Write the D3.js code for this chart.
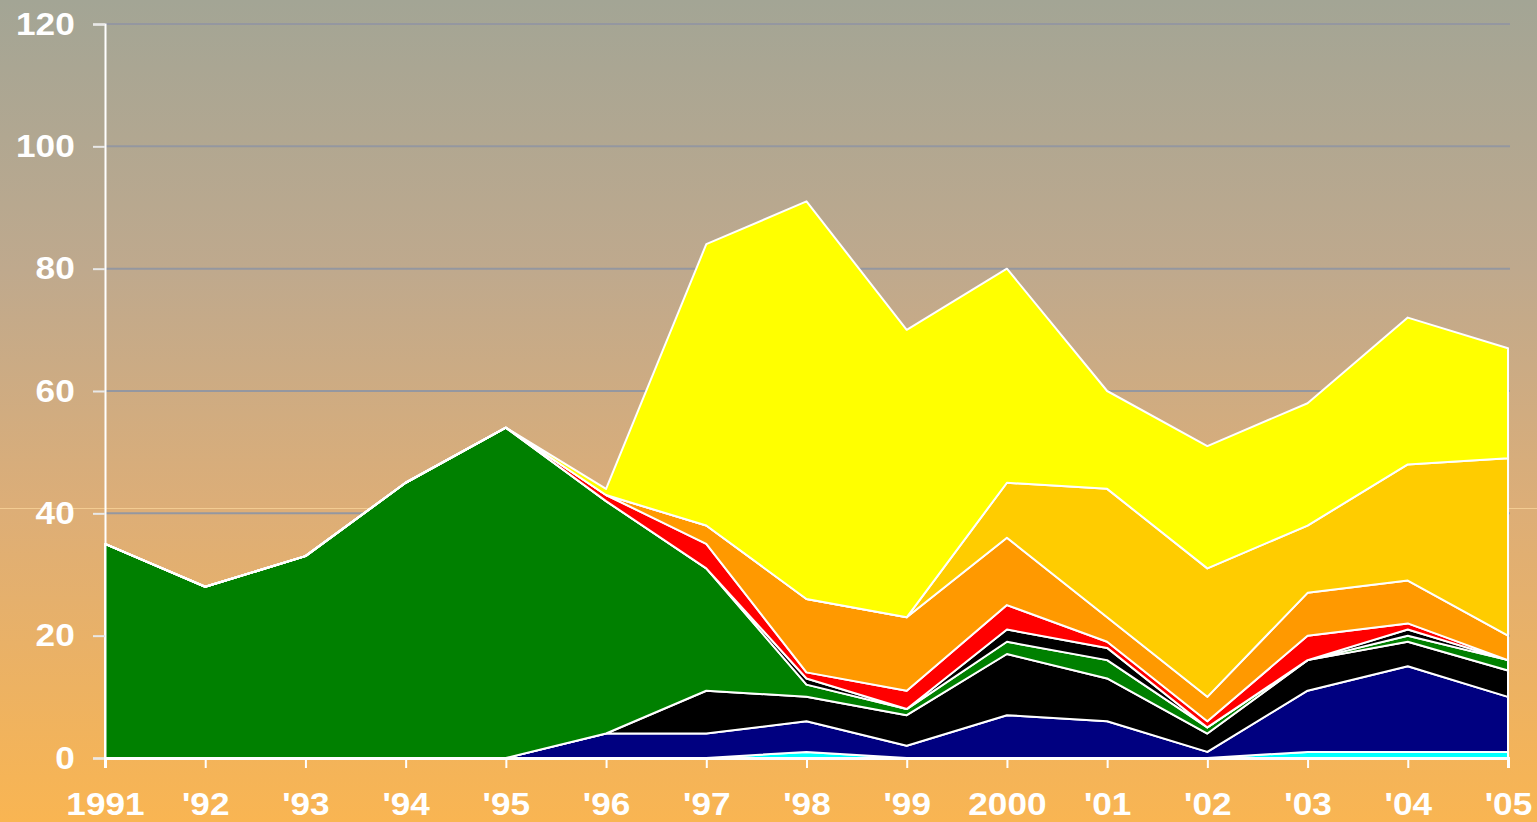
<!DOCTYPE html>
<html>
<head>
<meta charset="utf-8">
<script src="https://cdn.jsdelivr.net/npm/d3@7"></script>
<style>
  body { margin: 0; overflow: hidden; }
  svg { display: block; }
</style>
</head>
<body>
<div id="chart"></div>
<script>
// years along the bottom
var years = ["1991", "'92", "'93", "'94", "'95", "'96", "'97", "'98", "'99", "2000", "'01", "'02", "'03", "'04", "'05"];
var yTicks = [0, 20, 40, 60, 80, 100, 120];

// series, bottom to top of the stack
var cyan   = [0, 0, 0, 0, 0, 0, 0, 1, 0, 0, 0, 0, 1, 1, 1];
var navy   = [0, 0, 0, 0, 0, 4, 4, 5, 2, 7, 6, 1, 10, 14, 9];
var black1 = [0, 0, 0, 0, 0, 0, 7, 4, 5, 10, 7, 3, 5, 4, 4.3];
var green  = [35, 28, 33, 45, 54, 38, 20, 2, 1, 2, 3, 1, 0, 1, 1.7];
var black2 = [0, 0, 0, 0, 0, 0, 0, 1, 0, 2, 2, 0, 0, 1, 0];
var red    = [0, 0, 0, 0, 0, 1, 4, 1, 3, 4, 1, 1, 4, 1, 0];
var orange = [0, 0, 0, 0, 0, 0, 3, 12, 12, 11, 4, 4, 7, 7, 4];
var gold   = [0, 0, 0, 0, 0, 0, 0, 0, 0, 9, 21, 21, 11, 19, 29];
var yellow = [0, 0, 0, 0, 0, 1, 46, 65, 47, 35, 16, 20, 20, 24, 18];

var keys = ["cyan", "navy", "black1", "green", "black2", "red", "orange", "gold", "yellow"];
var colors = {
    cyan: "#00ffff", navy: "#000080", black1: "#000000", green: "#008000",
    black2: "#000000", red: "#ff0000", orange: "#ff9900", gold: "#ffcc00", yellow: "#ffff00"
};
var seriesData = { cyan: cyan, navy: navy, black1: black1, green: green, black2: black2,
    red: red, orange: orange, gold: gold, yellow: yellow };

var table = years.map(function (yr, i) {
    var row = { year: yr };
    keys.forEach(function (k) { row[k] = seriesData[k][i]; });
    return row;
});

var W = 1537, H = 822;
var margin = { top: 24, right: 29, bottom: 64, left: 105 },
    width = W - margin.left - margin.right,
    height = H - margin.top - margin.bottom;

var svg = d3.select("#chart")
    .append("svg")
    .attr("width", W)
    .attr("height", H);

// background gradient
var grad = svg.append("defs").append("linearGradient")
    .attr("id", "bg")
    .attr("x1", 0).attr("y1", 0).attr("x2", 0).attr("y2", 1);
grad.append("stop").attr("offset", "0%").attr("stop-color", "#a3a595");
grad.append("stop").attr("offset", "33%").attr("stop-color", "#bfa98d");
grad.append("stop").attr("offset", "62%").attr("stop-color", "#ddae77");
grad.append("stop").attr("offset", "100%").attr("stop-color", "#f9b552");

svg.append("rect")
    .attr("width", W)
    .attr("height", H)
    .attr("fill", "url(#bg)");

// faint seam line seen across the picture
svg.append("line")
    .attr("x1", 0).attr("x2", W)
    .attr("y1", 508.5).attr("y2", 508.5)
    .attr("stroke", "#f3cc92")
    .attr("stroke-width", 1);

var g = svg.append("g")
    .attr("transform", "translate(" + margin.left + "," + margin.top + ")");

var x = d3.scalePoint()
    .domain(years)
    .range([0, width]);

var y = d3.scaleLinear()
    .domain([0, 120])
    .range([height, 0]);

// gridlines
g.append("g")
    .selectAll("line")
    .data(yTicks.filter(function (t) { return t > 0; }))
    .enter()
    .append("line")
    .attr("x1", 0)
    .attr("x2", width + 2)
    .attr("y1", function (d) { return y(d); })
    .attr("y2", function (d) { return y(d); })
    .attr("stroke", "#9497a0")
    .attr("stroke-width", 2);

var stack = d3.stack().keys(keys);
var layers = stack(table);

var area = d3.area()
    .x(function (d) { return x(d.data.year); })
    .y0(function (d) { return y(d[0]); })
    .y1(function (d) { return y(d[1]); });

g.selectAll(".layer")
    .data(layers)
    .enter()
    .append("path")
    .attr("class", "layer")
    .attr("d", area)
    .attr("fill", function (d) { return colors[d.key]; })
    .attr("stroke", "#ffffff")
    .attr("stroke-width", 2)
    .attr("stroke-linejoin", "round");

// y axis
var yAxis = g.append("g")
    .call(d3.axisLeft(y).tickValues(yTicks).tickSize(12).tickPadding(15.5).tickFormat(d3.format("d")));
yAxis.select(".domain").attr("stroke", "#ffffff").attr("stroke-width", 2);
yAxis.selectAll(".tick line").attr("stroke", "#e8e8e8").attr("stroke-width", 2);
yAxis.selectAll("text")
    .attr("fill", "#ffffff")
    .attr("font-family", "'Liberation Sans', Arial, sans-serif")
    .attr("font-weight", "bold")
    .attr("transform", "scale(1.1,1)")
    .style("font-size", "32px");

// x axis
var xAxis = g.append("g")
    .attr("transform", "translate(0," + height + ")")
    .call(d3.axisBottom(x).tickSize(10).tickPadding(24));
xAxis.select(".domain").attr("stroke", "#ffffff").attr("stroke-width", 3);
xAxis.selectAll(".tick line").attr("stroke", "#ffffff").attr("stroke-width", 2);
xAxis.selectAll("text")
    .attr("fill", "#ffffff")
    .attr("font-family", "'Liberation Sans', Arial, sans-serif")
    .attr("font-weight", "bold")
    .attr("transform", "scale(1.1,1)")
    .style("font-size", "32px");
</script>
</body>
</html>
